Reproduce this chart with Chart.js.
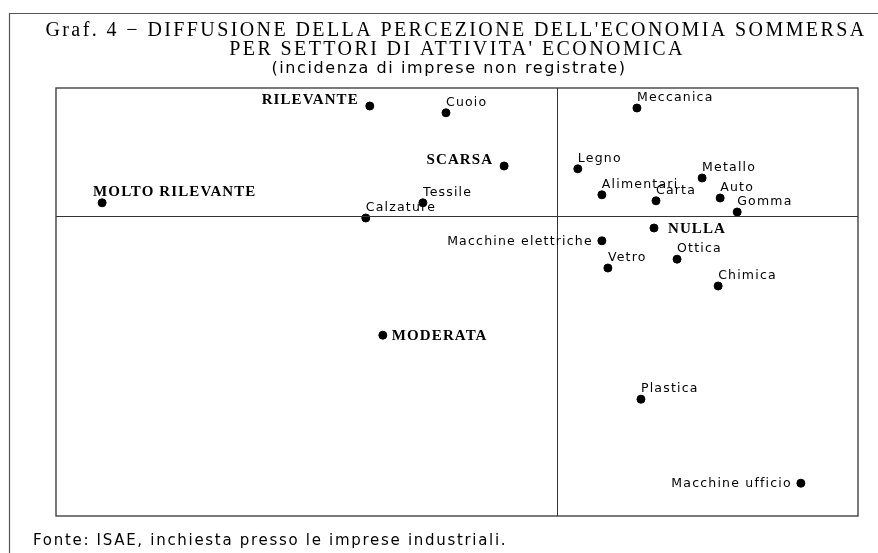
<!DOCTYPE html>
<html>
<head>
<meta charset="utf-8">
<script src="https://cdn.jsdelivr.net/npm/chart.js@4.4.0/dist/chart.umd.min.js"></script>
<style>
  html, body { margin: 0; padding: 0; background: #fff; }
  #wrap { width: 878px; height: 553px; position: relative; }
</style>
</head>
<body>
<div id="wrap"><canvas id="mappa"></canvas></div>
<script>
// --- dati (coordinate sul piano fattoriale) ---
const settori = ['Cuoio', 'Tessile', 'Calzature', 'Meccanica', 'Legno', 'Alimentari', 'Carta',
  'Metallo', 'Auto', 'Gomma', 'Macchine elettriche', 'Vetro', 'Ottica', 'Chimica',
  'Plastica', 'Macchine ufficio'];
const settoriX = [-0.222, -0.268, -0.382, 0.159, 0.041, 0.089, 0.197,
  0.289, 0.325, 0.359, 0.089, 0.101, 0.239, 0.321, 0.167, 0.486];
const settoriY = [0.258, 0.033, -0.005, 0.270, 0.118, 0.053, 0.038,
  0.095, 0.045, 0.010, -0.062, -0.130, -0.108, -0.175, -0.458, -0.668];

const modalita = ['RILEVANTE', 'SCARSA', 'MOLTO RILEVANTE', 'NULLA', 'MODERATA'];
const modalitaX = [-0.374, -0.106, -0.908, 0.193, -0.348];
const modalitaY = [0.275, 0.125, 0.033, -0.030, -0.298];

// dove mettere l'etichetta rispetto al punto
const posSettori = ['ne', 'ne', 'ne', 'ne', 'ne', 'ne', 'ne', 'ne', 'ne', 'ne',
  'w', 'ne', 'ne', 'ne', 'ne', 'w'];
const posModalita = ['w', 'w', 'nw', 'e', 'e'];

const titolo = ["Graf. 4 \u2212 DIFFUSIONE DELLA PERCEZIONE DELL'ECONOMIA SOMMERSA",
  "PER SETTORI DI ATTIVITA' ECONOMICA"];
const sottotitolo = '(incidenza di imprese non registrate)';
const fonte = 'Fonte: ISAE, inchiesta presso le imprese industriali.';

// --- plugin per cornice, assi a zero, etichette e testi ---
const mappaPlugin = {
  id: 'mappa',
  afterDraw(chart) {
    const ctx = chart.ctx;
    const a = chart.chartArea;
    const xs = chart.scales.x, ys = chart.scales.y;
    ctx.save();

    // cornice esterna
    ctx.strokeStyle = '#555';
    ctx.lineWidth = 1.2;
    ctx.beginPath();
    ctx.moveTo(9.5, 553);
    ctx.lineTo(9.5, 13.5);
    ctx.lineTo(878, 13.5);
    ctx.stroke();

    // riquadro del grafico
    ctx.strokeStyle = '#333';
    ctx.lineWidth = 1.3;
    ctx.strokeRect(a.left, a.top, a.right - a.left, a.bottom - a.top);

    // assi passanti per l'origine
    const x0 = Math.round(xs.getPixelForValue(0)) + 0.5;
    const y0 = Math.round(ys.getPixelForValue(0)) + 0.5;
    ctx.lineWidth = 1;
    ctx.beginPath();
    ctx.moveTo(x0, a.top); ctx.lineTo(x0, a.bottom);
    ctx.moveTo(a.left, y0); ctx.lineTo(a.right, y0);
    ctx.stroke();

    // titolo
    ctx.fillStyle = '#000';
    ctx.textAlign = 'center';
    ctx.textBaseline = 'alphabetic';
    ctx.font = '20px "Liberation Serif", serif';
    ctx.letterSpacing = '2.4px';
    ctx.fillText(titolo[0], 456, 36);
    ctx.fillText(titolo[1], 457, 55);
    ctx.font = '16px "DejaVu Sans", sans-serif';
    ctx.letterSpacing = '1.6px';
    ctx.fillText(sottotitolo, 449, 73);

    // fonte
    ctx.textAlign = 'left';
    ctx.font = '15px "DejaVu Sans", sans-serif';
    ctx.letterSpacing = '1.7px';
    ctx.fillText(fonte, 33, 545);

    // etichette dei punti
    const etichetta = (testo, px, py, pos, bold) => {
      if (bold) {
        ctx.font = 'bold 15px "Liberation Serif", serif';
        ctx.letterSpacing = '1.1px';
      } else {
        ctx.font = '12.5px "DejaVu Sans", sans-serif';
        ctx.letterSpacing = '1.2px';
      }
      if (pos === 'ne') { ctx.textAlign = 'left'; ctx.fillText(testo, px, py - 7); }
      else if (pos === 'nw') { ctx.textAlign = 'left'; ctx.fillText(testo, px - 9, py - 7); }
      else if (pos === 'w') { ctx.textAlign = 'right'; ctx.fillText(testo, px - (bold ? 11 : 9), py + (bold ? -2 : 4)); }
      else if (pos === 'e') { ctx.textAlign = 'left'; ctx.fillText(testo, px + (testo === 'NULLA' ? 14 : 9), py + 5); }
    };
    chart.getDatasetMeta(0).data.forEach((pt, i) => etichetta(settori[i], pt.x, pt.y, posSettori[i], false));
    chart.getDatasetMeta(1).data.forEach((pt, i) => etichetta(modalita[i], pt.x, pt.y, posModalita[i], true));

    ctx.restore();
  }
};

new Chart(document.getElementById('mappa'), {
  type: 'scatter',
  data: {
    datasets: [
      {
        label: 'Settori',
        data: settori.map((s, i) => ({ x: settoriX[i], y: settoriY[i] })),
        backgroundColor: '#000',
        borderColor: '#000',
        pointRadius: 4,
        pointHoverRadius: 4
      },
      {
        label: 'Modalità',
        data: modalita.map((s, i) => ({ x: modalitaX[i], y: modalitaY[i] })),
        backgroundColor: '#000',
        borderColor: '#000',
        pointRadius: 4,
        pointHoverRadius: 4
      }
    ]
  },
  options: {
    responsive: true,
    maintainAspectRatio: false,
    animation: false,
    layout: { padding: { left: 56, top: 88, right: 20, bottom: 37 } },
    scales: {
      x: { type: 'linear', min: -1.0, max: 0.6, display: false },
      y: { type: 'linear', min: -0.75, max: 0.32, display: false }
    },
    plugins: {
      legend: { display: false },
      tooltip: { enabled: false }
    }
  },
  plugins: [mappaPlugin]
});
</script>
</body>
</html>
